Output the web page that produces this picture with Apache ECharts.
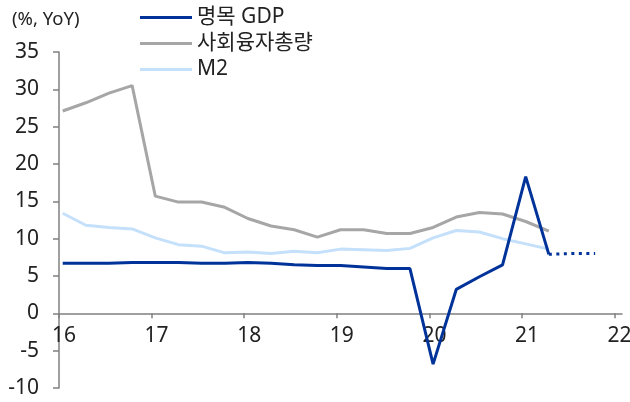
<!DOCTYPE html>
<html>
<head>
<meta charset="utf-8">
<script src="https://cdn.jsdelivr.net/npm/echarts@6/dist/echarts.min.js"></script>
<style>
    html,body{margin:0;padding:0;background:#fff;}
    #chart{width:630px;height:402px;}
</style>
</head>
<body>
<div id="chart"></div>
<script>
// 분기 (yyQn)
const quarters = ['16Q1','16Q2','16Q3','16Q4','17Q1','17Q2','17Q3','17Q4',
                  '18Q1','18Q2','18Q3','18Q4','19Q1','19Q2','19Q3','19Q4',
                  '20Q1','20Q2','20Q3','20Q4','21Q1','21Q2'];
// 명목 GDP
const gdp = [6.7,6.7,6.7,6.8,6.8,6.8,6.7,6.7,6.8,6.7,6.5,6.4,6.4,6.2,6.0,6.0,-6.8,3.2,4.9,6.5,18.3,7.9];
// 사회융자총량
const tsf = [27.1,28.2,29.5,30.5,15.7,14.9,14.9,14.2,12.7,11.7,11.2,10.2,11.2,11.2,10.7,10.7,11.5,12.9,13.5,13.3,12.3,11.0];
// M2
const m2 = [13.4,11.8,11.5,11.3,10.1,9.2,9.0,8.1,8.2,8.0,8.3,8.1,8.6,8.5,8.4,8.7,10.1,11.1,10.9,10.0,9.3,8.6];
// 명목 GDP 전망 (점선)
const fcQuarters = ['21Q2','21Q3','21Q4'];
const gdpForecast = [7.9,8.0,8.0];

const yearTicks = [16,17,18,19,20,21,22];

// 분기 -> 연도 축 위치 (각 분기 첫 달 중순)
function qx(q){
    return +q.slice(0,2) + (+q[3]-1)/4 + 0.04;
}
function pairs(qs, vals){
    return qs.map((q,i)=>[qx(q), vals[i]]);
}

const font = '"Noto Sans", "Noto Sans CJK KR", sans-serif';
const txt = '#222';

let myChart = echarts.init(document.getElementById('chart'));
myChart.setOption({
    animation:false,
    textStyle:{fontFamily:font},
    title:{
        text:'(%, YoY)',
        left:12, top:10, padding:0,
        textStyle:{fontFamily:font,fontSize:18.5,fontWeight:'normal',color:txt}
    },
    legend:{
        orient:'vertical',
        left:140, top:7, padding:0,
        icon:'rect',
        itemWidth:52, itemHeight:3,
        itemGap:5,
        data:['명목 GDP','사회융자총량','M2'],
        textStyle:{fontFamily:font,fontSize:21,color:txt,lineHeight:20}
    },
    grid:{left:59,right:8,top:52,bottom:14,containLabel:false,outerBoundsMode:'none'},
    xAxis:{
        type:'value',
        min:16, max:22.08,
        axisLine:{onZero:true,lineStyle:{color:'#808080',width:1.5}},
        axisTick:{show:true,length:5,inside:false,customValues:yearTicks,lineStyle:{color:'#808080',width:1.5}},
        // 라벨은 0선 바로 아래에 (격자 하단 기준으로 위로 올림)
        axisLabel:{customValues:yearTicks,fontSize:21,color:txt,margin:-62,padding:[0,0,0,10],fontFamily:font},
        splitLine:{show:false}
    },
    yAxis:{
        type:'value',
        min:-10, max:35, interval:5,
        axisLine:{show:true,lineStyle:{color:'#808080',width:1.5}},
        axisTick:{show:true,length:6,lineStyle:{color:'#808080',width:1.5}},
        axisLabel:{fontSize:21,color:txt,margin:20,fontFamily:font},
        splitLine:{show:false}
    },
    series:[
        {
            name:'명목 GDP', type:'line', symbol:'none', z:4,
            data:pairs(quarters,gdp),
            color:'#003399',
            lineStyle:{width:3,color:'#003399'}
        },
        {
            name:'사회융자총량', type:'line', symbol:'none', z:3,
            data:pairs(quarters,tsf),
            color:'#a6a6a6',
            lineStyle:{width:3,color:'#a6a6a6'}
        },
        {
            name:'M2', type:'line', symbol:'none', z:2,
            data:pairs(quarters,m2),
            color:'#c5e0fb',
            lineStyle:{width:3,color:'#c5e0fb'}
        },
        {
            name:'전망', type:'line', symbol:'none', z:4,
            data:pairs(fcQuarters,gdpForecast),
            lineStyle:{width:3,color:'#003399',type:[3,4.5]}
        }
    ]
});
</script>
</body>
</html>
